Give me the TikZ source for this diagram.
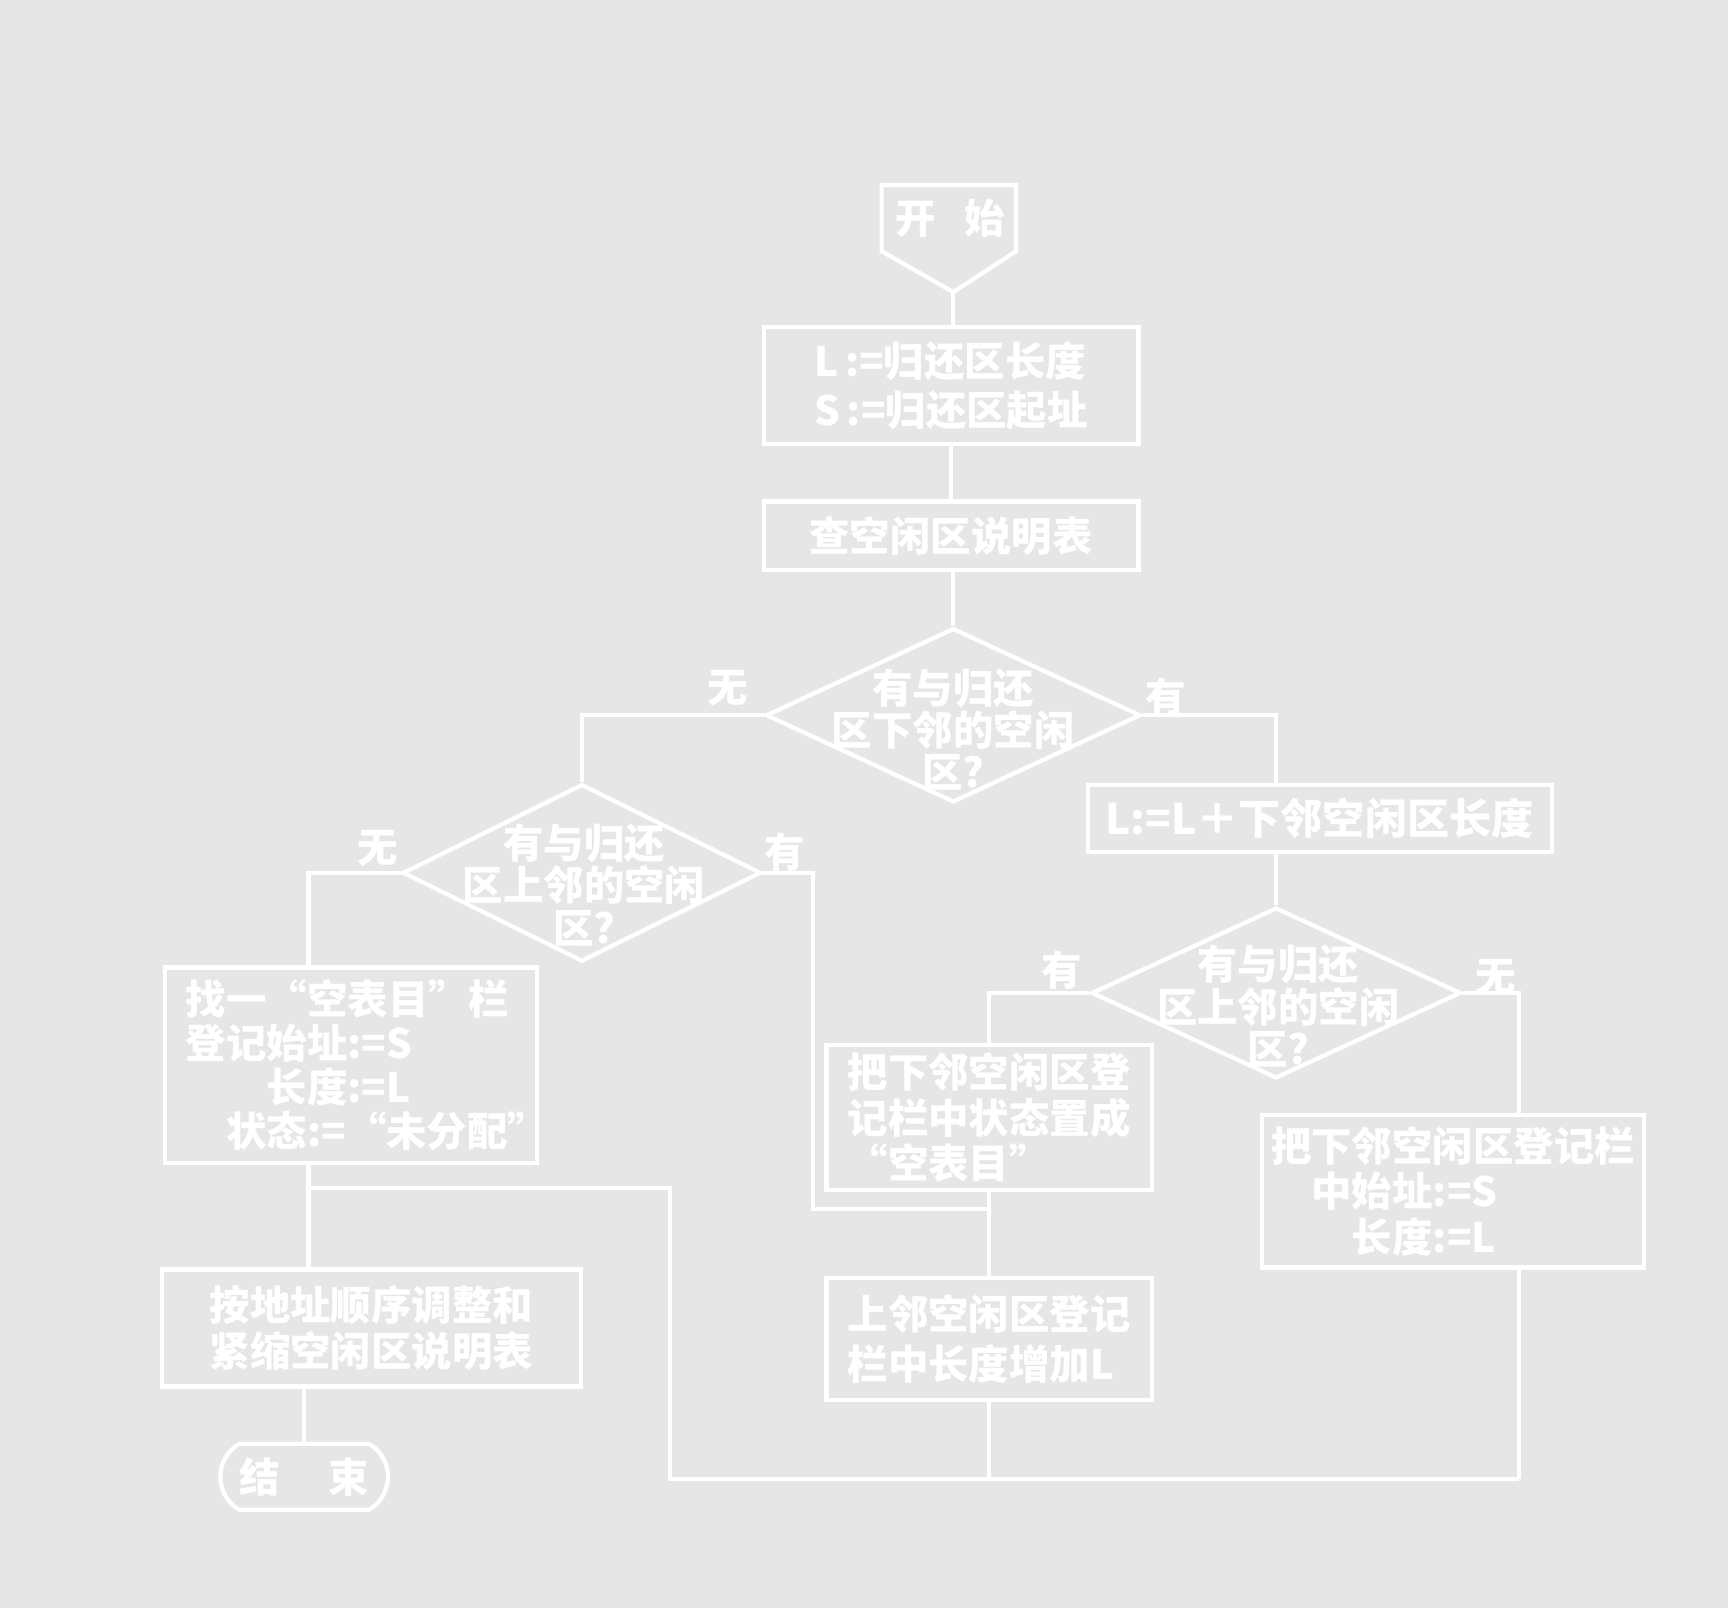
\documentclass[tikz,border=0pt]{standalone}
\usepackage{fontspec}
\newfontfamily\cjk{Noto Sans CJK SC}
\usepackage{tikz}
\usetikzlibrary{shapes.geometric,shapes.misc,positioning}
\definecolor{paper}{RGB}{230,230,230}
\tikzset{
  chart/.style={draw=white, line width=1.2pt, text=white, inner sep=0pt,
    font=\cjk\bfseries\fontsize{11.5}{13}\selectfont},
  procbox/.style={chart, rectangle},
  decision/.style={chart, diamond},
  askt/.style={text=white, align=center, inner sep=0pt,
    font=\cjk\bfseries\fontsize{11.5}{12}\selectfont},
  yesno/.style={text=white, inner sep=0pt, font=\cjk\bfseries\fontsize{11.5}{13}\selectfont},
  link/.style={white, line width=1.2pt}
}
\begin{document}
\begin{tikzpicture}[x=0.01102cm, y=-0.01102cm]
		\useasboundingbox (0,0) rectangle (1568,1459);
		\fill [paper] (0,0) rectangle (1568,1459);
		% Inizio
		\draw [link] (800,168) -- (922,168) -- (922,228) -- (865,265) -- (800,228) -- cycle;
		\coordinate (s0) at (865,265);
		\node [yesno] (st) at (862,198) {开\hspace{0.7em}始};
		% Blocchi
		\node [procbox, minimum width=3.747cm, minimum height=1.168cm, align=left,
		  font=\cjk\bfseries\fontsize{11.5}{14}\selectfont] (b1) at (863,350)
		  {L\,:=归还区长度\\S\,:=归还区起址};
		\node [procbox, minimum width=3.747cm, minimum height=0.683cm] (b2) at (863,486) {查空闲区说明表};
		\node [decision, minimum width=3.747cm, minimum height=1.741cm] (d1) at (865,649) {};
		\node [askt] (d1t) at (865,662) {有与归还\\区下邻的空闲\\区?};
		\node [procbox, minimum width=4.639cm, minimum height=0.672cm,
		  font=\cjk\bfseries\fontsize{12}{13}\selectfont] (b3) at (1197.5,742.5) {L:=L＋下邻空闲区长度};
		\node [decision, minimum width=3.582cm, minimum height=1.774cm] (d2) at (528,792) {};
		\node [askt] (d2t) at (530,803) {有与归还\\区上邻的空闲\\区?};
		\node [decision, minimum width=3.692cm, minimum height=1.708cm] (d3) at (1158,901) {};
		\node [askt] (d3t) at (1160,913) {有与归还\\区上邻的空闲\\区?};
		\node [procbox, minimum width=3.714cm, minimum height=1.951cm, align=left, text width=3.3cm,
		  font=\cjk\bfseries\fontsize{11.5}{12.5}\selectfont] (b4) at (318.5,966.5)
		  {找一“空表目”栏\\登记始址:=S\\\hspace*{2em}长度:=L\\\hspace*{1em}状态:=“未分配”};
		\node [procbox, minimum width=3.251cm, minimum height=1.455cm, align=left] (b5) at (897.5,1014)
		  {把下邻空闲区登\\记栏中状态置成\\“空表目”};
		\node [procbox, minimum width=3.251cm, minimum height=1.212cm, align=left,
		  font=\cjk\bfseries\fontsize{11.5}{14}\selectfont] (b6) at (897.5,1215)
		  {上邻空闲区登记\\栏中长度增加L};
		\node [procbox, minimum width=4.188cm, minimum height=1.168cm, align=center] (b7) at (337,1205)
		  {按地址顺序调整和\\紧缩空闲区说明表};
		\node [procbox, minimum width=3.824cm, minimum height=1.521cm, align=left] (b8) at (1318.5,1081)
		  {把下邻空闲区登记栏\\\hspace*{1em}中始址:=S\\\hspace*{2em}长度:=L};
		\node [chart, rounded rectangle, rounded rectangle arc length=120,
		  minimum width=1.675cm, minimum height=0.661cm] (end) at (276,1340) {结\hspace{1.2em}束};
		% Punti di raccordo
		\coordinate (k1) at (280,1078);
		\coordinate (k2) at (608,1078);
		\coordinate (k3) at (1378,1342);
		\coordinate (j1) at (738,1097);
		\coordinate (j2) at (897.5,1097);
		% Collegamenti
		\draw [link] (s0) -- (s0 |- b1.north);
		\draw [link] (b1.south) -- (b2.north);
		\draw [link] (d1.north |- b2.south) -- (d1.north);
		\draw [link] (d1.west) -| (d2.north);
		\draw [link] (d1.east) -| (d3.north |- b3.north);
		\draw [link] (d3.north |- b3.south) -- (d3.north);
		\draw [link] (d2.west) -| (k1 |- b4.north);
		\draw [link] (k1 |- b4.south) -- (k1 |- b7.north);
		\draw [link] (end.north |- b7.south) -- (end.north);
		\draw [link] (d2.east) -| (j1) -- (j2);
		\draw [link] (d3.west) -| (b5.north);
		\draw [link] (b5.south) -- (b6.north);
		\draw [link] (d3.east) -| (k3 |- b8.north);
		\draw [link] (k3 |- b8.south) -- (k3);
		\draw [link] (b6.south) -- (b6.south |- k3);
		\draw [link] (k3) -| (k2) -- (k1);
		% Etichette
		\node [yesno] (n1) at (660,625) {无};
		\node [yesno] (y1) at (1058,633) {有};
		\node [yesno] (n2) at (343,770) {无};
		\node [yesno] (y2) at (712,773) {有};
		\node [yesno] (y3) at (963,880) {有};
		\node [yesno] (n3) at (1357,887) {无};
	\end{tikzpicture}
\end{document}
